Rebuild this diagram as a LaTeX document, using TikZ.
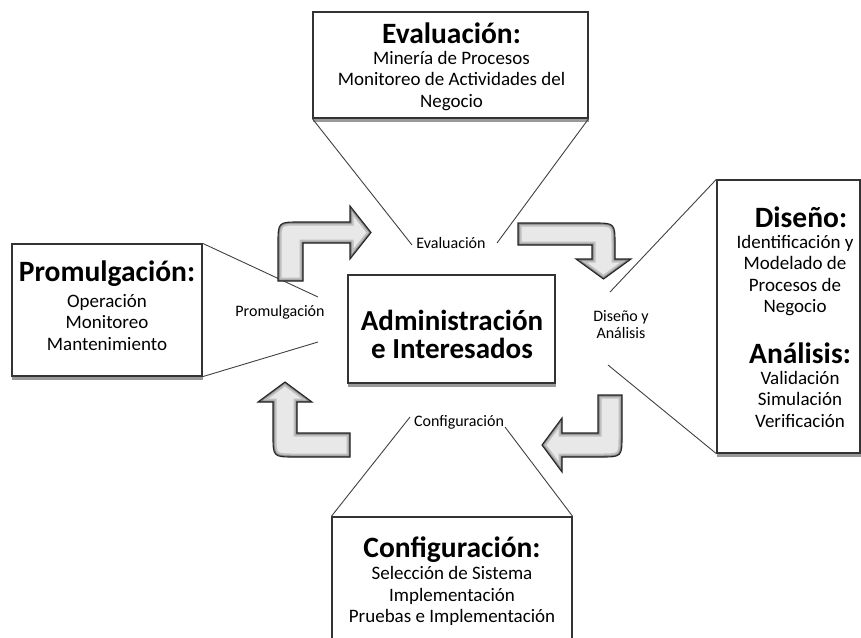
\documentclass[tikz,border=0pt]{standalone}
\usepackage{fontspec}
\setmainfont{Carlito}
\tikzset{
  panel/.style={draw=black!80, line width=1.3pt, fill=white, inner sep=0pt},
  boxshadow/.style={fill=black!40},
  callout/.style={draw=black!75, line width=0.9pt},
  headtext/.style={font=\fontsize{29.5}{32}\selectfont\bfseries, inner sep=0pt},
  bodytext/.style={font=\fontsize{19}{21.5}\selectfont, align=center, inner sep=0pt},
  tagtext/.style={font=\fontsize{16}{17}\selectfont, align=center, inner sep=0pt},
  coretext/.style={font=\fontsize{29}{28}\selectfont\bfseries, align=center, inner sep=0pt},
}
% a bent block arrow: light fill, darker inner rim, dark outline
\newcommand\bendarrow[1]{%
  \fill[black!9] #1;
  \begin{scope}
    \clip #1;
    \draw[black!25, line width=7pt] #1;
    \draw[black!50, line width=3pt] #1;
  \end{scope}
  \draw[black!85, line width=1.1pt, line join=miter] #1;}
\begin{document}
\begin{tikzpicture}[x=1pt,y=-1pt]
\useasboundingbox (0,0) rectangle (861,637);
\clip (0,0) rectangle (861,637);

% phase panels
\node[panel, minimum width=275pt, minimum height=106pt] (evbox) at (450.5,65) {};
\node[panel, minimum width=190pt, minimum height=132pt] (prbox) at (107,310) {};
\node[panel, minimum width=207pt, minimum height=108pt] (core) at (451.5,329) {};
\node[panel, minimum width=143pt, minimum height=273pt] (dibox) at (788.5,316.5) {};
\node[panel, minimum width=240pt, minimum height=143pt] (cfbox) at (452,588.5) {};
\foreach \b in {evbox,prbox,core,dibox}
  \fill[boxshadow] ([xshift=0.6pt]\b.south west) rectangle ([yshift=-3pt]\b.south east);

% phase labels around the core
\node[tagtext] (evtag) at (451,243) {Evaluación};
\node[tagtext] (prtag) at (280,312) {Promulgación};
\node[tagtext] (ditag) at (621,325) {Diseño y\\Análisis};
\node[tagtext] (cftag) at (459,422) {Configuración};

% free ends of the callout lines
\coordinate (evL) at (412,245);
\coordinate (evR) at (497,243);
\coordinate (prT) at (318,297);
\coordinate (prB) at (318,342);
\coordinate (diT) at (610,292);
\coordinate (diB) at (608,365);
\coordinate (cfL) at (410,417);
\coordinate (cfR) at (505,427);

\draw[callout] (evbox.south west) -- (evL);
\draw[callout] (evbox.south east) -- (evR);
\draw[callout] (prbox.north east) -- (prT);
\draw[callout] (prbox.south east) -- (prB);
\draw[callout] (dibox.north west) -- (diT);
\draw[callout] (dibox.south west) -- (diB);
\draw[callout] (cfbox.north west) -- (cfL);
\draw[callout] (cfbox.north east) -- (cfR);

% cycle arrows
\bendarrow{(278,281) -- (278,244) .. controls (278,222) .. (300,222) -- (350,222) -- (350,206) -- (371,232.5) -- (350,259) -- (350,243) -- (303,243) -- (303,281) -- cycle}
\bendarrow{(518,223) -- (593,223) .. controls (615,223) .. (615,245) -- (615,259) -- (631,259) -- (603.5,279) -- (576,259) -- (592,259) -- (592,245) -- (518,245) -- cycle}
\bendarrow{(598,395) -- (622,395) -- (622,435) .. controls (622,457) .. (600,457) -- (562,457) -- (562,472) -- (542,445) -- (562,418) -- (562,433) -- (598,433) -- cycle}
\bendarrow{(350,433) -- (350,457) -- (295,457) .. controls (273,457) .. (273,435) -- (273,402) -- (258,402) -- (285,382) -- (312,402) -- (297,402) -- (297,433) -- cycle}

% panel contents
\node[headtext] (evhead) at (451.5,33) {Evaluación:};
\node[bodytext] (evbody) at (451.5,81) {Minería de Procesos\\Monitoreo de Actividades del\\Negocio};

\node[headtext] (prhead) at (107,274) {Promulgación:};
\node[bodytext] (prbody) at (107,322.5) {Operación\\Monitoreo\\Mantenimiento};

\node[coretext] (corelabel) at (452,334) {Administración\\[0pt]e Interesados};

\node[headtext] (dihead) at (801,217) {Diseño:};
\node[bodytext] (dibody) at (795,275.5) {Identificación y\\Modelado de\\Procesos de\\Negocio};
\node[headtext] (anhead) at (800,353) {Análisis:};
\node[bodytext] (anbody) at (800,399) {Validación\\Simulación\\Verificación};

\node[headtext] (cfhead) at (452,550) {Configuración:};
\node[bodytext] (cfbody) at (452,596) {Selección de Sistema\\Implementación\\Pruebas e Implementación};
\end{tikzpicture}
\end{document}
